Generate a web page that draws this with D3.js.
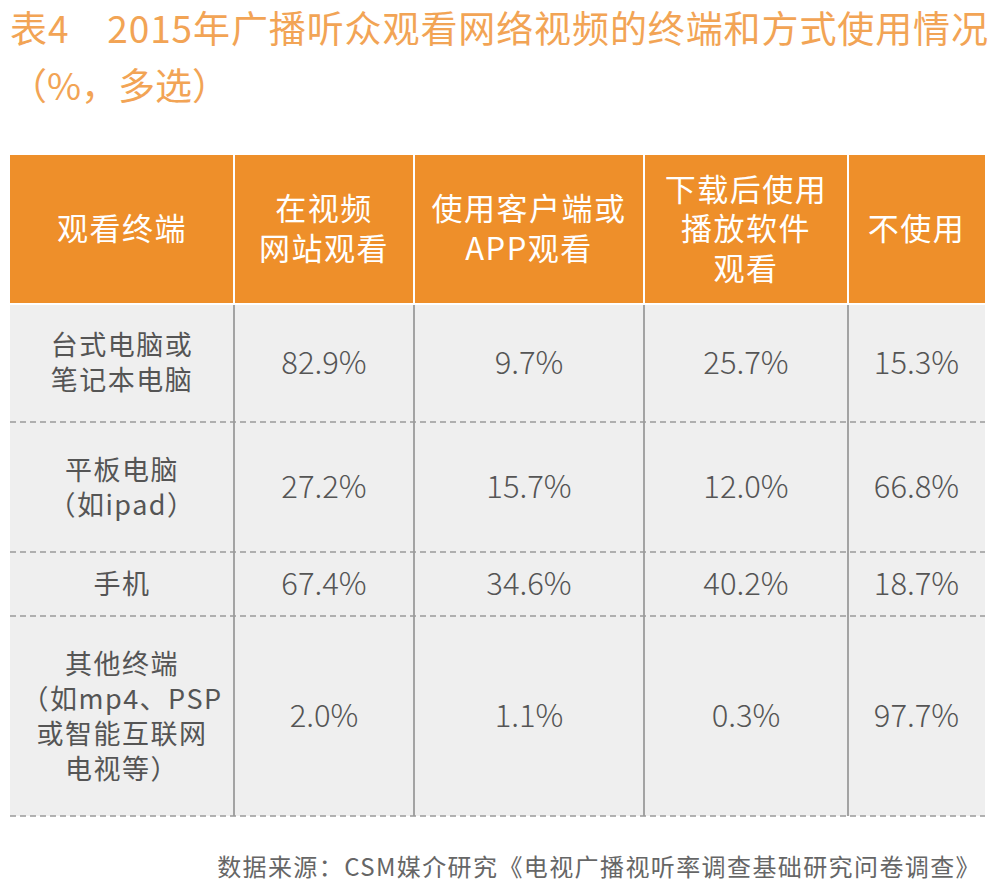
<!DOCTYPE html>
<html><head><meta charset="utf-8">
<script src="https://cdn.jsdelivr.net/npm/d3@7/dist/d3.min.js"></script>
<style>
html,body{margin:0;padding:0;background:#fff;}
svg{display:block;}
text{font-family:"Noto Sans CJK SC","Noto Sans",sans-serif;}
</style></head>
<body>
<script>
// ---- data ----
const titleLines = ["表4\u30002015年广播听众观看网络视频的终端和方式使用情况", "（%，多选）"];
const headers = [["观看终端"], ["在视频", "网站观看"], ["使用客户端或", "APP观看"], ["下载后使用", "播放软件", "观看"], ["不使用"]];
const terminals = [["台式电脑或", "笔记本电脑"], ["平板电脑", "（如ipad）"], ["手机"], ["其他终端", "（如mp4、PSP", "或智能互联网", "电视等）"]];
const siteViewing = [82.9, 27.2, 67.4, 2.0];
const appViewing = [9.7, 15.7, 34.6, 1.1];
const downloadViewing = [25.7, 12.0, 40.2, 0.3];
const notUsing = [15.3, 66.8, 18.7, 97.7];
const source = "数据来源：CSM媒介研究《电视广播视听率调查基础研究问卷调查》";

// ---- layout ----
const W = 994, H = 896;
const colEdges = [10, 234, 414, 644, 848, 985];
const headerTop = 155, headerBottom = 303;
const rowEdges = [303, 422, 552, 616, 816];

const series = [siteViewing, appViewing, downloadViewing, notUsing];

const svg = d3.select("body").append("svg").attr("width", W).attr("height", H);

const colIdx = d3.range(headers.length);
const x = d3.scaleOrdinal().domain(colIdx).range(colEdges.slice(0, -1));
const xEnd = d3.scaleOrdinal().domain(colIdx).range(colEdges.slice(1));
const rowIdx = d3.range(terminals.length);
const y = d3.scaleOrdinal().domain(rowIdx).range(rowEdges.slice(0, -1));
const yEnd = d3.scaleOrdinal().domain(rowIdx).range(rowEdges.slice(1));
const cx = i => (x(i) + xEnd(i)) / 2;
const cy = r => (y(r) + yEnd(r)) / 2;

// title
svg.append("text").attr("x", 10).attr("y", 43)
  .attr("font-size", 37).attr("fill", "#F2A455")
  .attr("textLength", 978).attr("lengthAdjust", "spacing")
  .text(titleLines[0]);
svg.append("text").attr("x", 10).attr("y", 100)
  .attr("font-size", 37).attr("fill", "#F2A455")
  .text(titleLines[1]);

// header background
svg.append("rect").attr("x", colEdges[0]).attr("y", headerTop)
  .attr("width", colEdges[colEdges.length - 1] - colEdges[0]).attr("height", headerBottom - headerTop)
  .attr("fill", "#EE8F2A");
// body background
svg.append("rect").attr("x", colEdges[0]).attr("y", headerBottom + 2)
  .attr("width", colEdges[colEdges.length - 1] - colEdges[0]).attr("height", rowEdges[rowEdges.length - 1] - headerBottom - 2)
  .attr("fill", "#EFEFEF");

// header separators (white)
svg.selectAll("line.hsep").data(colIdx.slice(1)).enter().append("line")
  .attr("x1", d => x(d)).attr("x2", d => x(d))
  .attr("y1", headerTop).attr("y2", headerBottom)
  .attr("stroke", "#fff").attr("stroke-width", 2);

// body vertical lines
svg.selectAll("line.bsep").data(colIdx.slice(1)).enter().append("line")
  .attr("x1", d => x(d)).attr("x2", d => x(d))
  .attr("y1", headerBottom + 2).attr("y2", rowEdges[rowEdges.length - 1])
  .attr("stroke", "#8a8a8a").attr("stroke-width", 1.5);

// dashed row lines
svg.selectAll("line.rsep").data(rowIdx).enter().append("line")
  .attr("x1", colEdges[0]).attr("x2", colEdges[colEdges.length - 1])
  .attr("y1", d => yEnd(d)).attr("y2", d => yEnd(d))
  .attr("stroke", "#9a9a9a").attr("stroke-width", 1.3).attr("stroke-dasharray", "6,4");

// header text
const hLH = 39.5;
const hMid = (headerTop + headerBottom) / 2;
headers.forEach((lines, i) => {
  lines.forEach((ln, k) => {
    svg.append("text").attr("text-anchor", "middle").attr("fill", "#fff")
      .attr("font-size", 31).attr("letter-spacing", 1.5)
      .attr("x", cx(i))
      .attr("y", hMid + 11 + (k - (lines.length - 1) / 2) * hLH)
      .text(ln);
  });
});

// row labels
const rLH = 35;
terminals.forEach((lines, r) => {
  lines.forEach((ln, k) => {
    svg.append("text").attr("text-anchor", "middle").attr("fill", "#555")
      .attr("font-size", 27).attr("letter-spacing", 1.5)
      .attr("x", cx(0))
      .attr("y", cy(r) + 10 + (k - (lines.length - 1) / 2) * rLH)
      .text(ln);
  });
});

// values
const fmt = d3.format(".1f");
series.forEach((vals, s) => {
  svg.selectAll(null).data(vals).enter().append("text")
    .attr("x", cx(s + 1)).attr("y", (d, r) => cy(r) + 11)
    .attr("text-anchor", "middle").attr("fill", "#555")
    .attr("font-size", 31).attr("font-weight", 300)
    .text(d => fmt(d) + "%");
});

// source
svg.append("text").attr("x", 981).attr("y", 876).attr("text-anchor", "end")
  .attr("font-size", 24).attr("fill", "#666").attr("letter-spacing", 1.4)
  .text(source);
</script>
</body></html>
